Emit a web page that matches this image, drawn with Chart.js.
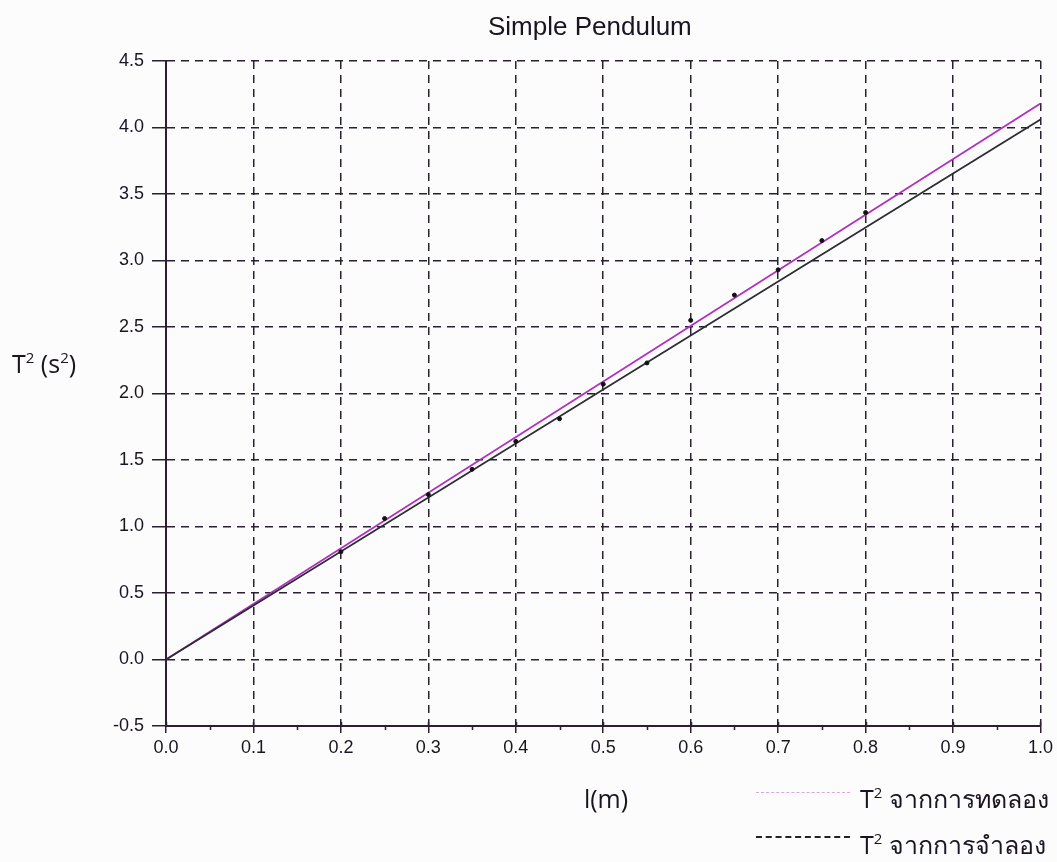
<!DOCTYPE html>
<html>
<head>
<meta charset="utf-8">
<script src="https://cdn.jsdelivr.net/npm/chart.js@4.4.1/dist/chart.umd.min.js"></script>
<style>
  html, body { margin: 0; padding: 0; background: #fcfcfc; }
  #wrap { position: relative; width: 1057px; height: 862px; }
  #c { position: absolute; left: 0; top: 0; }
  .lbl { position: absolute; color: #1a1420; white-space: nowrap; }
  .title { font-family: "Liberation Sans", Arial, sans-serif; font-size: 26px; line-height: 26px; left: 488px; top: 13px; }
  .ytitle { font-family: "Open Sans", "Noto Sans", sans-serif; font-size: 25px; line-height: 25px; left: 12px; top: 351px; }
  .xtitle { font-family: "Open Sans", "Noto Sans", sans-serif; font-size: 25px; line-height: 25px; left: 506px; width: 200px; text-align: center; top: 786px; }
  .leg { font-family: "Open Sans", "Noto Sans", sans-serif; font-size: 25px; line-height: 25px; left: 860px; }
  .legline { position: absolute; left: 756px; width: 94px; height: 0; }
  sup { font-size: 15px; vertical-align: 10px; line-height: 0; }
</style>
</head>
<body>
<div id="wrap">
  <canvas id="c" width="1057" height="862"></canvas>
  <div class="lbl title">Simple Pendulum</div>
  <div class="lbl ytitle">T<sup>2</sup> (s<sup>2</sup>)</div>
  <div class="lbl xtitle">l(m)</div>
  <div class="legline" style="top:792px;border-top:1px dashed #d8a8e6;"></div>
  <div class="lbl leg" style="top:786px;">T<sup>2</sup> จากการทดลอง</div>
  <div class="legline" style="top:836px;border-top:2px dashed #222;"></div>
  <div class="lbl leg" style="top:832px;">T<sup>2</sup> จากการจำลอง</div>
</div>
<script>
// Data
const lengths = [0.2, 0.25, 0.3, 0.35, 0.4, 0.45, 0.5, 0.55, 0.6, 0.65, 0.7, 0.75, 0.8];
const expT2   = [0.81, 1.06, 1.24, 1.43, 1.64, 1.81, 2.07, 2.23, 2.55, 2.74, 2.93, 3.15, 3.36];
const fitX    = [0.0, 1.0];
const fitY    = [0.0, 4.18];   // experimental fit line
const simX    = [0.0, 1.0];
const simY    = [0.0, 4.06];   // simulation / theory line
const xMinorTicks = [0.05, 0.15, 0.25, 0.35, 0.45, 0.55, 0.65, 0.75, 0.85, 0.95];

const toPts = (xs, ys) => xs.map((x, i) => ({ x: x, y: ys[i] }));

const minorTickPlugin = {
  id: 'minorTicks',
  afterDraw(chart) {
    const ctx = chart.ctx;
    const xs = chart.scales.x;
    const y0 = chart.chartArea.bottom;
    ctx.save();
    ctx.strokeStyle = '#2a2030';
    ctx.lineWidth = 1.5;
    xMinorTicks.forEach(v => {
      const px = Math.round(xs.getPixelForValue(v)) + 0.5;
      ctx.beginPath();
      ctx.moveTo(px, y0);
      ctx.lineTo(px, y0 + 4);
      ctx.stroke();
    });
    xs.ticks.forEach(t => {
      const px = Math.round(xs.getPixelForValue(t.value)) + 0.5;
      ctx.beginPath();
      ctx.moveTo(px, y0 - 4);
      ctx.lineTo(px, y0);
      ctx.stroke();
    });
    ctx.restore();
  }
};

const tickFont = { family: '"Liberation Sans", Arial, sans-serif', size: 18 };

new Chart(document.getElementById('c'), {
  type: 'scatter',
  data: {
    datasets: [
      {
        label: 'fit',
        data: toPts(fitX, fitY),
        showLine: true,
        borderColor: '#b02ec0',
        borderWidth: 1.8,
        pointRadius: 0,
        order: 2
      },
      {
        label: 'sim',
        data: toPts(simX, simY),
        showLine: true,
        borderColor: '#2b2d33',
        borderWidth: 1.8,
        pointRadius: 0,
        order: 1
      },
      {
        label: 'exp',
        data: toPts(lengths, expT2),
        showLine: false,
        backgroundColor: '#111',
        borderColor: '#111',
        pointRadius: 2,
        order: 0
      }
    ]
  },
  options: {
    responsive: false,
    animation: false,
    layout: { padding: { top: 61, right: 15, left: 0, bottom: 0 } },
    plugins: { legend: { display: false }, tooltip: { enabled: false }, title: { display: false } },
    scales: {
      x: {
        type: 'linear',
        min: 0, max: 1.0,
        afterFit(s) { s.height = 136; },
        ticks: {
          stepSize: 0.1,
          padding: 4,
          color: '#1a1420',
          font: tickFont,
          callback: v => v.toFixed(1),
          maxRotation: 0,
          autoSkip: false
        },
        grid: { color: '#2a2030', lineWidth: 1.5, tickLength: 7, tickColor: '#2a2030', tickWidth: 1.5 },
        border: { display: true, color: '#2a2030', width: 2, dash: [8, 6] }
      },
      y: {
        type: 'linear',
        min: -0.5, max: 4.5,
        afterFit(s) { s.width = 166; },
        ticks: {
          stepSize: 0.5,
          padding: 8,
          color: '#1a1420',
          font: tickFont,
          callback: v => v.toFixed(1),
          autoSkip: false
        },
        grid: { color: '#2a2030', lineWidth: 1.5, tickLength: 14, tickColor: '#2a2030', tickWidth: 1.5 },
        border: { display: true, color: '#2a2030', width: 2, dash: [8, 6] }
      }
    }
  },
  plugins: [minorTickPlugin]
});
</script>
</body>
</html>
